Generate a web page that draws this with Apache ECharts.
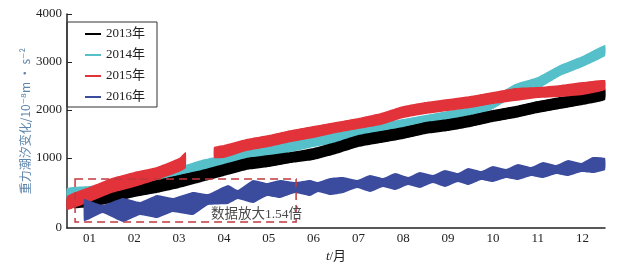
<!DOCTYPE html>
<html>
<head>
<meta charset="utf-8">
<script src="https://cdn.jsdelivr.net/npm/echarts@6/dist/echarts.min.js"></script>
<style>
  html, body { margin: 0; padding: 0; background: #fff; }
  #chart { width: 627px; height: 262px; }
</style>
</head>
<body>
<div id="chart"></div>
<script>
// ------------------ data (x = month index 0..12, y in 10^-8 m/s^2) ------------------
var months = ['01', '02', '03', '04', '05', '06', '07', '08', '09', '10', '11', '12'];
var yTicks = [1000, 2000, 3000, 4000];
var yBottom = -458;   // axis floor, printed as "0" in the figure

var halfMonths = [0, 0.5, 1, 1.5, 2, 2.5, 3, 3.5, 4, 4.5, 5, 5.5, 6, 6.5, 7, 7.5, 8, 8.5, 9, 9.5, 10, 10.5, 11, 11.5, 12];

// 2013
var blackX = [0.15, 0.5, 1, 1.5, 2, 2.5, 3, 3.5, 4, 4.5, 5, 5.5, 6, 6.5, 7, 7.5, 8, 8.5, 9, 9.5, 10, 10.5, 11, 11.5, 12];
var blackHi = [167, 208, 333, 437, 542, 646, 750, 875, 1000, 1062, 1125, 1208, 1333, 1479, 1562, 1646, 1750, 1812, 1896, 2000, 2083, 2187, 2271, 2354, 2458];
var blackLo = [-42, -21, 62, 187, 271, 375, 500, 625, 750, 812, 896, 958, 1083, 1229, 1312, 1396, 1500, 1562, 1646, 1750, 1833, 1937, 2021, 2104, 2208];

// 2014
var cyanHi = [375, 417, 479, 562, 667, 812, 958, 1062, 1167, 1250, 1354, 1458, 1542, 1625, 1729, 1812, 1896, 1979, 2062, 2271, 2542, 2687, 2937, 3125, 3354];
var cyanLo = [125, 187, 229, 292, 417, 583, 729, 854, 937, 1021, 1125, 1229, 1312, 1396, 1500, 1583, 1646, 1750, 1833, 2021, 2292, 2437, 2708, 2896, 3125];

// 2015 (two pieces, gap in March)
var red1X = [0, 0.5, 1, 1.5, 2, 2.5, 2.65];
var red1Hi = [208, 396, 583, 708, 812, 1000, 1125];
var red1Lo = [-83, 83, 271, 396, 542, 708, 792];
var red2X = [3.28, 3.5, 4, 4.5, 5, 5.5, 6, 6.5, 7, 7.5, 8, 8.5, 9, 9.5, 10, 10.5, 11, 11.5, 12];
var red2Hi = [1229, 1271, 1396, 1479, 1583, 1667, 1750, 1833, 1937, 2083, 2167, 2229, 2292, 2375, 2458, 2479, 2521, 2583, 2625];
var red2Lo = [1000, 1000, 1146, 1229, 1333, 1417, 1521, 1604, 1687, 1833, 1917, 1979, 2042, 2125, 2187, 2250, 2271, 2312, 2417];

// 2016 (magnified 1.54x)
var blueX = [0.38, 0.51, 0.80, 1.25, 1.63, 2.01, 2.36, 2.81, 3.15, 3.59, 3.81, 4.15, 4.46, 4.75, 5.09, 5.42, 5.60, 5.87, 6.16, 6.47, 6.76, 7.05, 7.32, 7.61, 7.87, 8.16, 8.43, 8.72, 8.95, 9.24, 9.50, 9.79, 10.06, 10.35, 10.62, 10.91, 11.18, 11.47, 11.73, 12];
var blueHi = [146, 104, 21, 167, 83, 229, 167, 292, 250, 437, 333, 542, 479, 542, 500, 542, 500, 583, 604, 542, 646, 583, 687, 604, 708, 646, 750, 687, 792, 729, 833, 771, 875, 812, 917, 854, 958, 896, 1021, 1000];
var blueLo = [-312, -271, -146, -333, -187, -250, -125, -187, 21, 42, 146, 62, 208, 167, 271, 208, 292, 229, 271, 375, 292, 396, 333, 437, 375, 479, 396, 500, 437, 542, 500, 583, 542, 625, 583, 667, 625, 708, 687, 750];

// dashed "magnified" box
var boxX = [0.18, 5.11];
var boxY = [-333, 562];

var SERIF = "'Liberation Serif', 'Noto Sans CJK SC', serif";

function rows(xs, lo, hi) {
    var out = [];
    for (var i = 0; i < xs.length; i++) out.push([xs[i], lo[i], hi[i]]);
    return out;
}

// whole band drawn once: upper edge forward, lower edge back, one filled shape
function bandRender(data) {
    return function (params, api) {
        if (params.dataIndex !== 0) return;
        var top = [], bot = [];
        for (var i = 0; i < data.length; i++) {
            top.push(api.coord([data[i][0], data[i][2]]));
            bot.unshift(api.coord([data[i][0], data[i][1]]));
        }
        return {
            type: 'polygon',
            shape: {points: top.concat(bot), smooth: 0.12},
            style: {fill: api.visual('color')}
        };
    };
}

function band(name, color, data, z) {
    return {
        name: name,
        type: 'custom',
        xAxisIndex: 1,
        z: z,
        itemStyle: {color: color},
        encode: {x: 0, y: [1, 2]},
        data: data,
        renderItem: bandRender(data)
    };
}

var myChart = echarts.init(document.getElementById('chart'), null, {renderer: 'canvas'});

var option = {
    animation: false,
    grid: {left: 67, right: 22, top: 14, bottom: 34, outerBoundsMode: 'none'},
    legend: {
        orient: 'vertical',
        left: 67,
        top: 22,
        padding: [5, 12, 3, 18],
        itemGap: 7,
        itemWidth: 16,
        itemHeight: 2,
        borderColor: '#333',
        borderWidth: 1,
        textStyle: {fontFamily: SERIF, fontSize: 13, color: '#222', lineHeight: 14},
        data: [
            {name: '2013年', icon: 'rect'},
            {name: '2014年', icon: 'rect'},
            {name: '2015年', icon: 'rect'},
            {name: '2016年', icon: 'rect'}
        ]
    },
    xAxis: [{
        type: 'category',
        data: months,
        boundaryGap: true,
        name: '{i|t}/月',
        nameLocation: 'middle',
        nameGap: 17,
        nameTextStyle: {
            fontFamily: SERIF, fontSize: 13, color: '#222',
            rich: {i: {fontFamily: SERIF, fontStyle: 'italic', fontSize: 13, color: '#222'}}
        },
        axisLine: {onZero: false, lineStyle: {color: '#222', width: 1.5}},
        axisTick: {inside: true, length: 3, interval: 0, lineStyle: {color: '#222'}},
        axisLabel: {fontFamily: SERIF, fontSize: 13, color: '#222', margin: 4, interval: 0},
        splitLine: {show: false}
    }, {
        type: 'value',
        min: 0,
        max: 12,
        show: false
    }],
    yAxis: {
        type: 'value',
        min: yBottom,
        max: 4000,
        name: '重力潮汐变化/10⁻⁸m · s⁻²',
        nameLocation: 'middle',
        nameMoveOverlap: false,
        nameGap: 36,
        nameTextStyle: {fontFamily: "'Noto Sans CJK SC', 'DejaVu Sans', sans-serif", fontSize: 12, color: '#5f86ad'},
        axisLine: {show: true, lineStyle: {color: '#222', width: 1.5}},
        axisTick: {inside: true, length: 5, customValues: yTicks, lineStyle: {color: '#222'}},
        axisLabel: {
            fontFamily: SERIF, fontSize: 13, color: '#222', margin: 5,
            customValues: [yBottom].concat(yTicks),
            formatter: function (v) { return v < 0 ? '0' : String(v); }
        },
        splitLine: {show: false}
    },
    series: [
        band('2014年', '#55c0c9', rows(halfMonths, cyanLo, cyanHi), 2),
        band('2013年', '#000000', rows(blackX, blackLo, blackHi), 3),
        band('2015年', '#e2323a', rows(red1X, red1Lo, red1Hi), 4),
        band('2015年', '#e2323a', rows(red2X, red2Lo, red2Hi), 4),
        band('2016年', '#3b4c9e', rows(blueX, blueLo, blueHi), 5),
        {
            name: 'box',
            type: 'custom',
            xAxisIndex: 1,
            z: 6,
            data: [[boxX[0], boxY[0], boxX[1], boxY[1]]],
            renderItem: function (params, api) {
                var p0 = api.coord([api.value(0), api.value(3)]);
                var p1 = api.coord([api.value(2), api.value(1)]);
                return {
                    type: 'group',
                    children: [{
                        type: 'rect',
                        shape: {x: p0[0], y: p0[1], width: p1[0] - p0[0], height: p1[1] - p0[1]},
                        style: {fill: 'none', stroke: '#c0383e', lineWidth: 1.5, lineDash: [8, 5]}
                    }, {
                        type: 'text',
                        x: p1[0] + 6,
                        y: p1[1] - 8,
                        style: {
                            text: '数据放大1.54倍',
                            fill: '#4a4a4a',
                            font: "13.5px 'Liberation Serif', 'Noto Sans CJK SC'",
                            align: 'right',
                            verticalAlign: 'middle'
                        }
                    }]
                };
            }
        }
    ]
};
myChart.setOption(option);
</script>
</body>
</html>
